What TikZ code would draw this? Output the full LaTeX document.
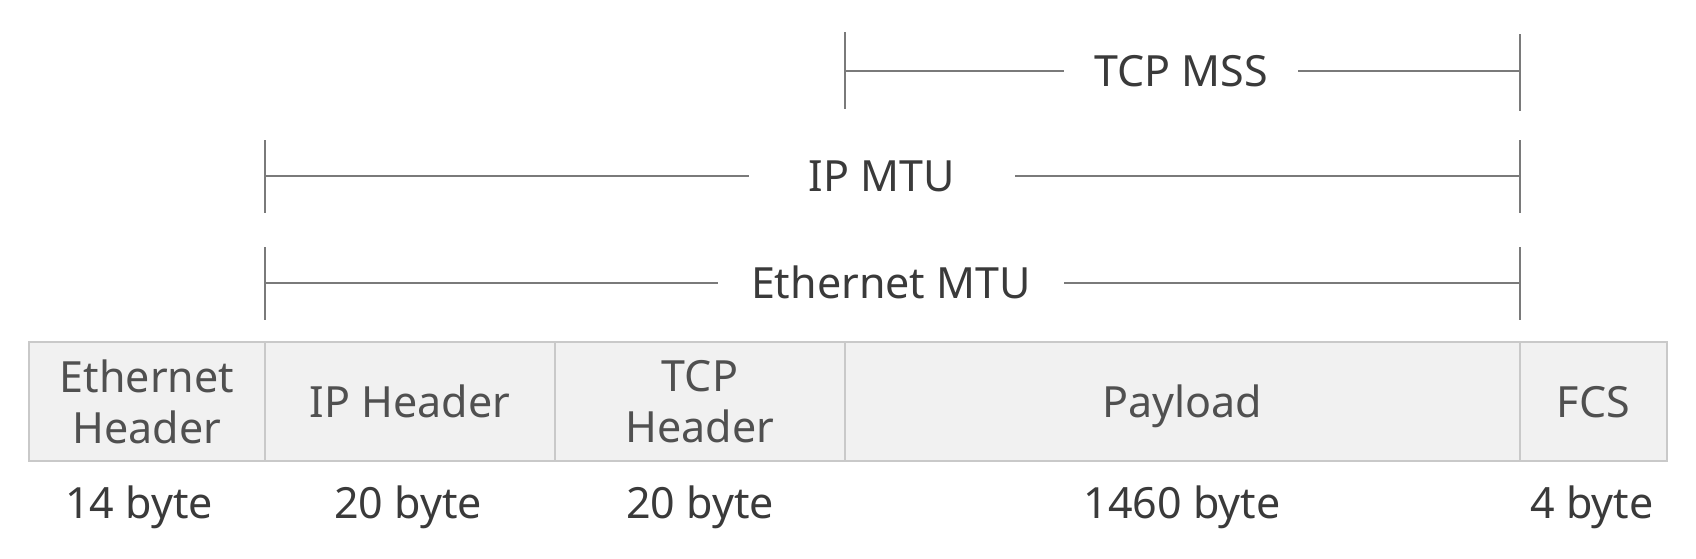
\documentclass[tikz,border=0pt]{standalone}
\usepackage{fontspec}
\setmainfont{Noto Sans}
\definecolor{boxfill}{HTML}{F1F1F1}
\definecolor{boxline}{HTML}{C9C9C9}
\definecolor{fieldtext}{HTML}{505050}
\definecolor{labeltext}{HTML}{3A3A3A}
\definecolor{barline}{HTML}{7A7A7A}
\begin{document}
\begin{tikzpicture}[x=1pt, y=-1pt,
    field/.style={draw=boxline, fill=boxfill, line width=2.5pt,
        minimum height=119pt, inner sep=0pt, align=center,
        text=fieldtext, font=\fontsize{43}{51}\selectfont},
    size/.style={text=labeltext, font=\fontsize{43}{51}\selectfont,
        text height=31pt, text depth=0pt},
    span/.style={size, inner xsep=33pt, inner ysep=0pt},
    bar/.style={draw=barline, line width=2.5pt}]
        \useasboundingbox (0,0) rectangle (1696,558);

        % frame fields
        \node[field, minimum width=236pt] (eth) at (147,401.5) {Ethernet\\Header};
        \node[field, minimum width=290pt] (ip) at (410,401.5) {IP Header};
        \node[field, minimum width=290pt] (tcp) at (700,401.5) {TCP\\Header};
        \node[field, minimum width=675pt, text height=31pt, text depth=0pt] (payload) at (1182.5,401.5) {Payload};
        \node[field, minimum width=147pt, text height=31pt, text depth=0pt] (fcs) at (1593.5,401.5) {FCS};

        \node[size] (ethsize) at (139,503) {14 byte};
        \node[size] (ipsize) at (408,503) {20 byte};
        \node[size] (tcpsize) at (700,503) {20 byte};
        \node[size] (payloadsize) at (1182,503) {1460 byte};
        \node[size] (fcssize) at (1592,503) {4 byte};

        % Ethernet MTU
        \coordinate (emL) at (265,283);
        \coordinate (emR) at (1520,283);
        \node[span] (emtu) at (891,283) {Ethernet MTU};
        \draw[bar] (emL) ++(0,-36) -- ++(0,73);
        \draw[bar] (emR) ++(0,-36) -- ++(0,73);
        \draw[bar] (emL) -- (emtu);
        \draw[bar] (emtu) -- (emR);

        % IP MTU
        \coordinate (imL) at (265,176);
        \coordinate (imR) at (1520,176);
        \node[span, inner xsep=60pt] (imtu) at (882,176) {IP MTU};
        \draw[bar] (imL) ++(0,-36) -- ++(0,73);
        \draw[bar] (imR) ++(0,-36) -- ++(0,73);
        \draw[bar] (imL) -- (imtu);
        \draw[bar] (imtu) -- (imR);

        % TCP MSS
        \coordinate (msL) at (845,71);
        \coordinate (msR) at (1520,71);
        \node[span, inner xsep=30pt] (mss) at (1181,71) {TCP MSS};
        \draw[bar] (msL) ++(0,-39) -- ++(0,77);
        \draw[bar] (msR) ++(0,-37) -- ++(0,77);
        \draw[bar] (msL) -- (mss);
        \draw[bar] (mss) -- (msR);
    \end{tikzpicture}
\end{document}
